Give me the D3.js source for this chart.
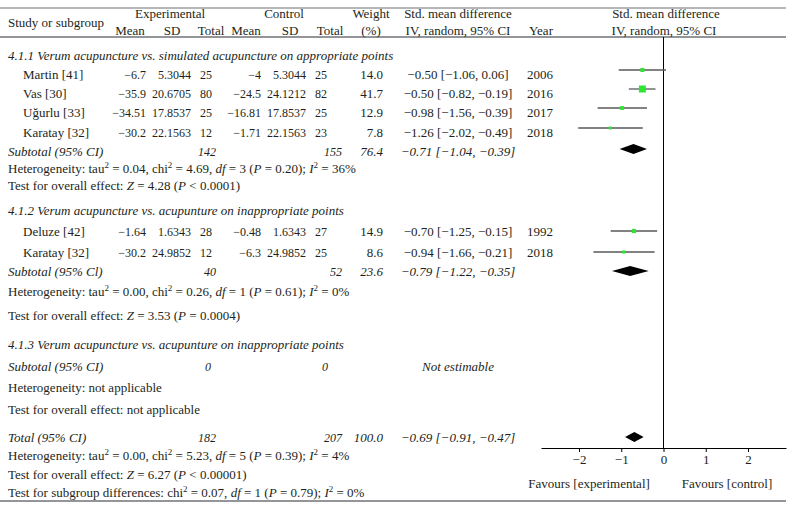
<!DOCTYPE html>
<html>
<head>
<meta charset="utf-8">
<script src="https://cdn.jsdelivr.net/npm/d3@7"></script>
<style>
  body { margin: 0; background: #fff; }
  text { font-family: "Liberation Serif", "Times New Roman", serif; font-size: 13px; fill: #231f20; }
  text.num { font-size: 12px; }
</style>
</head>
<body>
<svg id="chart" width="795" height="510"></svg>
<script>
// ---- data ----
const studyNames = ["Martin [41]", "Vas [30]", "Uğurlu [33]", "Karatay [32]", "Deluze [42]", "Karatay [32]"];
const studyGroup = [0, 0, 0, 0, 1, 1];
const expMean = [-6.7, -35.9, -34.51, -30.2, -1.64, -30.2];
const expSD = [5.3044, 20.6705, 17.8537, 22.1563, 1.6343, 24.9852];
const expN = [25, 80, 25, 12, 28, 12];
const ctrlMean = [-4, -24.5, -16.81, -1.71, -0.48, -6.3];
const ctrlSD = [5.3044, 24.1212, 17.8537, 22.1563, 1.6343, 24.9852];
const ctrlN = [25, 82, 25, 23, 27, 25];
const weight = [14.0, 41.7, 12.9, 7.8, 14.9, 8.6];
const smd = [-0.50, -0.50, -0.98, -1.26, -0.70, -0.94];
const ciLow = [-1.06, -0.82, -1.56, -2.02, -1.25, -1.66];
const ciHigh = [0.06, -0.19, -0.39, -0.49, -0.15, -0.21];
const years = [2006, 2016, 2017, 2018, 1992, 2018];

const groupTitles = [
  "4.1.1 Verum acupuncture vs. simulated acupuncture on appropriate points",
  "4.1.2 Verum acupuncture vs. acupunture on inappropriate points",
  "4.1.3 Verum acupuncture vs. acupunture on inappropriate points"
];
const subLabels = ["Subtotal (95% CI)", "Subtotal (95% Cl)", "Subtotal (95% CI)"];
const subExpN = [142, 40, 0];
const subCtrlN = [155, 52, 0];
const subWeight = [76.4, 23.6, null];
const subSmd = [-0.71, -0.79, null];
const subLow = [-1.04, -1.22, null];
const subHigh = [-0.39, -0.35, null];
const subHet = [
  "Heterogeneity: tau^2 = 0.04, chi^2 = 4.69, *df* = 3 (*P* = 0.20); *I*^2 = 36%",
  "Heterogeneity: tau^2 = 0.00, chi^2 = 0.26, *df* = 1 (*P* = 0.61); *I*^2 = 0%",
  "Heterogeneity: not applicable"
];
const subTest = [
  "Test for overall effect: *Z* = 4.28 (*P* < 0.0001)",
  "Test for overall effect: *Z* = 3.53 (*P* = 0.0004)",
  "Test for overall effect: not applicable"
];

const total = { label: "Total (95% CI)", expN: 182, ctrlN: 207, weight: 100.0, smd: -0.69, low: -0.91, high: -0.47 };
const totalNotes = [
  "Heterogeneity: tau^2 = 0.00, chi^2 = 5.23, *df* = 5 (*P* = 0.39); *I*^2 = 4%",
  "Test for overall effect: *Z* = 6.27 (*P* < 0.00001)",
  "Test for subgroup differences: chi^2 = 0.07, *df* = 1 (*P* = 0.79); *I*^2 = 0%"
];
const axisTicks = [-2, -1, 0, 1, 2];
const favourLabels = ["Favours [experimental]", "Favours [control]"];

// ---- layout ----
const col = { label: 8, name: 23, eMean: 146, eSD: 191, eN: 200, eSub: 216, cMean: 261, cSD: 306, cN: 315, cSub: 342, w: 383, ci: 458, year: 540 };
const rowY = [74, 93, 112, 132, 231, 252];
const titleY = [55, 210, 344];
const subY = [151, 271, 366];
const hetY = [168, 291, 387];
const testY = [185, 315, 409];
const totalY = 437, totalNoteY = [455, 474, 492];
const markShift = [-4, 0];
const axisY = 448;

const svg = d3.select("#chart");
const x = d3.scaleLinear().domain([-2.9, 2.9]).range([541, 786]);
const side = d3.scaleSqrt().domain([0, 41.7]).range([0, 7]);

const minus = v => String(v).replace("-", "\u2212");
const f2 = v => v.toFixed(2).replace("-", "\u2212");
const ciText = (m, l, h) => `${f2(m)} [${f2(l)}, ${f2(h)}]`;

function put(txt, xx, yy, anchor, italic, cls) {
  return svg.append("text").attr("x", xx).attr("y", yy + 4.5)
    .attr("class", cls || null)
    .attr("text-anchor", anchor || "start")
    .attr("font-style", italic ? "italic" : null)
    .text(txt);
}

function rich(xx, yy, str) {
  const t = svg.append("text").attr("x", xx).attr("y", yy + 4.5);
  let raised = false;
  str.split(/(\*[^*]+\*|\^2)/).filter(s => s).forEach(p => {
    if (p === "^2") {
      t.append("tspan").attr("dy", -5).attr("font-size", 9).text("2");
      raised = true;
      return;
    }
    const s = t.append("tspan");
    if (raised) { s.attr("dy", 5); raised = false; }
    if (p[0] === "*") s.attr("font-style", "italic").text(p.slice(1, -1));
    else s.text(p);
  });
}

function diamond(m, l, h, yy) {
  svg.append("path")
    .attr("d", `M${x(l)},${yy} L${x(m)},${yy - 5} L${x(h)},${yy} L${x(m)},${yy + 5} Z`)
    .attr("fill", "#000");
}

// ---- rules ----
svg.append("line").attr("x1", 0).attr("x2", 786).attr("y1", 8).attr("y2", 8).attr("stroke", "#6d6e71").attr("stroke-width", 1.2);
svg.append("line").attr("x1", 0).attr("x2", 786).attr("y1", 37).attr("y2", 37).attr("stroke", "#939598").attr("stroke-width", 2);
svg.append("line").attr("x1", 0).attr("x2", 786).attr("y1", 501).attr("y2", 501).attr("stroke", "#939598").attr("stroke-width", 2);

// ---- header ----
put("Study or subgroup", col.label, 22);
put("Experimental", 170, 13, "middle");
put("Control", 284, 13, "middle");
put("Weight", 371, 13, "middle");
put("Std. mean difference", 458, 13, "middle");
put("Std. mean difference", 666, 13, "middle");
put("Mean", 130, 30, "middle");
put("SD", 172, 30, "middle");
put("Total", 211, 30, "middle");
put("Mean", 246, 30, "middle");
put("SD", 290, 30, "middle");
put("Total", 330, 30, "middle");
put("(%)", 371, 30, "middle");
put("IV, random, 95% CI", 458, 30, "middle");
put("Year", 541, 30, "middle");
put("IV, random, 95% CI", 664, 30, "middle");

// ---- zero line ----
svg.append("line").attr("x1", x(0)).attr("x2", x(0)).attr("y1", 37).attr("y2", axisY).attr("stroke", "#000").attr("stroke-width", 1);

// ---- subgroups ----
groupTitles.forEach((g, i) => {
  put(g, col.label, titleY[i], "start", true);
  put(subLabels[i], col.label, subY[i], "start", true);
  put(subExpN[i], subExpN[i] ? col.eSub : col.eN + 8, subY[i], subExpN[i] ? "end" : "middle", true, "num");
  put(subCtrlN[i], subCtrlN[i] ? col.cSub : col.cN + 10, subY[i], subCtrlN[i] ? "end" : "middle", true, "num");
  if (subWeight[i] != null) {
    put(subWeight[i].toFixed(1), col.w, subY[i], "end", true);
    put(ciText(subSmd[i], subLow[i], subHigh[i]), col.ci, subY[i], "middle", true);
    diamond(subSmd[i], subLow[i], subHigh[i], subY[i] + markShift[i] / 2);
  } else {
    put("Not estimable", col.ci, subY[i], "middle", true);
  }
  rich(col.label, hetY[i], subHet[i]);
  rich(col.label, testY[i], subTest[i]);
});

// ---- studies ----
studyNames.forEach((n, i) => {
  const yy = rowY[i];
  put(n, col.name, yy);
  put(minus(expMean[i]), col.eMean, yy, "end", false, "num");
  put(expSD[i], col.eSD, yy, "end", false, "num");
  put(expN[i], col.eN, yy, "start", false, "num");
  put(minus(ctrlMean[i]), col.cMean, yy, "end", false, "num");
  put(ctrlSD[i], col.cSD, yy, "end", false, "num");
  put(ctrlN[i], col.cN, yy, "start", false, "num");
  put(weight[i].toFixed(1), col.w, yy, "end");
  put(ciText(smd[i], ciLow[i], ciHigh[i]), col.ci, yy, "middle");
  put(years[i], col.year, yy, "middle");

  const my = yy + markShift[studyGroup[i]];
  svg.append("line").attr("x1", x(ciLow[i])).attr("x2", x(ciHigh[i]))
    .attr("y1", my).attr("y2", my).attr("stroke", "#58595b").attr("stroke-width", 1.3);
  const s = side(weight[i]);
  svg.append("rect").attr("x", x(smd[i]) - s / 2).attr("y", my - s / 2)
    .attr("width", s).attr("height", s).attr("fill", "#2ee62e");
});

// ---- total ----
put(total.label, col.label, totalY, "start", true);
put(total.expN, col.eSub, totalY, "end", true, "num");
put(total.ctrlN, col.cSub, totalY, "end", true, "num");
put(total.weight.toFixed(1), col.w, totalY, "end", true);
put(ciText(total.smd, total.low, total.high), col.ci, totalY, "middle", true);
diamond(total.smd, total.low, total.high, totalY);
totalNotes.forEach((t, i) => rich(col.label, totalNoteY[i], t));

// ---- axis ----
const axis = svg.append("g").attr("transform", `translate(0,${axisY})`)
  .call(d3.axisBottom(x).tickValues(axisTicks).tickSize(4).tickSizeOuter(0).tickFormat(d => minus(d)));
axis.select(".domain").attr("stroke", "#000");
axis.selectAll("text").attr("font-size", 13).attr("font-family", "Liberation Serif")
  .attr("fill", "#231f20").attr("y", 7).attr("dy", "0.71em");
put(favourLabels[0], 589, 483, "middle");
put(favourLabels[1], 727, 483, "middle");
</script>
</body>
</html>
